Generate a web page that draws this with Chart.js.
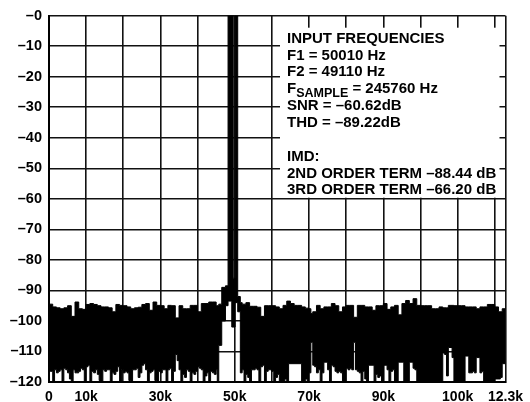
<!DOCTYPE html>
<html>
<head>
<meta charset="utf-8">
<script src="https://cdn.jsdelivr.net/npm/chart.js@4.4.1/dist/chart.umd.min.js"></script>
<style>
  html, body { margin: 0; padding: 0; background: #fff; }
  #wrap { width: 530px; height: 402px; }
</style>
</head>
<body>
<div id="wrap"><canvas id="myChart" width="530" height="402"></canvas></div>
<script>
// upper edge of the FFT trace: [bin start kHz, dB]
const topTrace = [
  [0, -94.5], [1, -95.4], [2, -95.7], [3, -96], [4, -95.7], [5, -95], [6, -98.5], [7, -93.8], [8, -96], [9, -96.2],
  [10, -94.6], [11, -94.3], [12, -94.6], [13, -95], [14, -95.4], [15, -95.4], [16, -95.7], [17, -97], [18, -94.6], [19, -94.9],
  [20, -95], [21, -95.4], [22, -96], [23, -95.7], [24, -95.5], [25, -94.6], [26, -94.3], [27, -96.5], [28, -93.8], [29, -94.9],
  [30, -95], [31, -96], [32, -94.9], [33, -95], [34, -99], [35, -95], [36, -96], [37, -96], [38, -94.9], [39, -94.9],
  [40, -97], [41, -94.3], [42, -94.3], [43, -93.8], [44, -93.8], [45, -95], [45.7, -94.5], [46.5, -89], [47.5, -88.5], [48.2, 0],
  [49.2, 0], [49.6, -86], [50.1, 0], [50.8, -92], [51.5, -94], [52, -94.5], [53, -94], [54, -95.2], [55, -95.2], [56, -95.5],
  [57, -98.5], [58, -95], [59, -95], [60, -95], [61, -95.4], [62, -96], [63, -94.9], [64, -93.5], [65, -94.3], [66, -94.9],
  [67, -94.9], [68, -95.4], [69, -95.8], [70, -96], [70.5, -97.6], [71, -97], [72, -94.9], [73, -96], [74, -95.4], [75, -95.4],
  [76, -94.3], [77, -95], [78, -97], [79, -95.4], [80, -94.9], [81, -94.9], [82, -98.8], [83, -94.9], [84, -94.9], [85, -95.4],
  [86, -95.4], [87, -96.5], [88, -95], [89, -95], [90, -94.3], [91, -96.2], [92, -95.4], [93, -94.9], [94, -98], [95, -94.3],
  [96, -93.3], [97, -94.3], [98, -92.7], [99, -94.9], [100, -95], [101, -95], [102, -95], [103, -96], [104, -96], [105, -95.4],
  [106, -95.7], [107, -95.7], [107.5, -94.9], [109, -95], [110, -95], [111, -95], [112, -95.4], [113, -95.4], [114, -95.4], [115, -96],
  [116, -95.4], [117, -95.4], [118, -94.6], [119, -94.6], [120, -95.4], [121, -97], [122, -96], [122.88, -96]
];

// lower edge of the FFT trace: [bin start kHz, dB]
const bottomTrace = [
  [0, -116.5], [0.5, -116.5], [1, -120], [1.5, -116], [2, -117], [2.5, -116.5], [3, -116], [3.5, -120], [4, -115.5], [4.5, -116],
  [5, -117], [5.5, -119], [6, -120], [6.5, -116], [7, -117], [7.5, -117], [8, -116.5], [8.5, -115.5], [9, -116], [9.5, -120],
  [10, -115], [10.5, -114.5], [11, -120], [11.5, -116.5], [12, -117], [12.5, -116], [13, -117.5], [13.5, -119.5], [14, -120], [14.5, -116],
  [15, -116.5], [15.5, -116], [16, -116], [16.5, -120], [17, -117], [17.5, -117.5], [18, -116.5], [18.5, -115], [19, -120], [19.5, -116],
  [20, -117], [20.5, -116.5], [21, -117], [21.5, -119.5], [22, -120], [22.5, -116], [23, -116], [23.5, -115.5], [24, -118.5], [24.5, -117],
  [25, -114.5], [25.5, -114], [26, -116], [26.5, -120], [27, -117], [27.5, -116.5], [28, -116], [28.5, -119.5], [29, -120], [29.5, -116.5],
  [30, -117], [30.5, -116], [31, -116], [31.5, -120], [32, -116], [32.5, -115.5], [33, -120], [33.5, -116.5], [34, -111], [34.5, -113],
  [35, -116], [35.5, -120], [36, -117.5], [36.5, -118.5], [37, -116], [37.5, -116.5], [38, -120], [38.5, -117], [39, -117.5], [39.5, -116.5],
  [40, -115], [40.5, -115.5], [41, -116], [41.5, -120], [42, -118], [42.5, -117], [43, -120], [43.5, -116.5], [44, -117], [44.5, -117.5],
  [45, -116], [45.3, -120], [45.7, -108], [46.5, -100], [47.5, -95], [48.2, -93.5], [49.2, -102], [50.1, -94], [50.8, -97], [51.5, -117],
  [52, -116], [52.5, -120], [53, -117.5], [53.5, -118.5], [54, -120], [54.5, -116], [55, -116], [55.5, -115.5], [56, -116], [56.5, -120],
  [57, -115], [57.5, -114.5], [58, -120], [58.5, -116.5], [59, -116], [60, -116.5], [60.5, -120], [61, -118.5], [61.5, -117.5], [62, -120],
  [63.5, -119], [64, -120], [64.5, -114], [68, -120], [69, -119], [69.5, -120], [70, -117], [70.5, -107], [71, -114.5], [71.5, -115],
  [72, -117], [72.5, -116], [73, -120], [73.5, -117], [74, -113.5], [75, -116], [75.5, -120], [76, -114.5], [76.5, -115], [77, -116.5],
  [77.5, -117], [78, -116.5], [78.5, -117], [79, -120], [80, -115.5], [80.5, -116], [81, -115.5], [81.5, -116], [82, -107], [82.5, -116],
  [83, -116.5], [83.5, -117], [84, -120], [84.5, -116.5], [85, -119], [85.5, -120], [86, -114.5], [87.5, -120], [88, -117.5], [88.5, -118.5],
  [89, -118], [89.5, -120], [90, -114.5], [91, -116], [91.5, -120], [92, -116.5], [92.5, -116], [93, -120], [94, -113.5], [95.5, -120],
  [97, -113.5], [98, -115.5], [98.5, -116], [99, -120], [106, -110.5], [106.5, -111], [107, -118], [107.5, -108.7], [108.5, -112], [109, -120],
  [112, -111.5], [113, -117], [114, -116.5], [114.5, -117], [115, -112], [116, -117], [116.5, -116.5], [117, -120], [120, -119], [121.5, -118.5],
  [122, -114], [122.88, -114]
];

// axis
const xMax = 122.88;
const xTickValues = [0, 10, 30, 50, 70, 90, 110, 122.88];
const xTickLabels = ['0', '10k', '30k', '50k', '70k', '90k', '100k', '12.3k'];

// text of the info box
const infoLines = [
  'INPUT FREQUENCIES',
  'F1 = 50010 Hz',
  'F2 = 49110 Hz',
  null, // FSAMPLE line, drawn with subscript
  'SNR = \u201360.62dB',
  'THD = \u201389.22dB',
  '',
  'IMD:',
  '2ND ORDER TERM \u201388.44 dB',
  '3RD ORDER TERM \u201366.20 dB'
];

const FONT = '"Liberation Sans", Arial, Helvetica, sans-serif';

const infoBox = {
  id: 'infoBox',
  beforeDatasetsDraw(chart) {
    const ctx = chart.ctx;
    const area = chart.chartArea;
    const bx = area.left + 231, by = area.top + 12;
    ctx.save();
    ctx.fillStyle = '#fff';
    ctx.fillRect(bx, by, area.right - 6 - bx, 170);
    ctx.fillStyle = '#000';
    ctx.textBaseline = 'alphabetic';
    ctx.textAlign = 'left';
    const tx = bx + 7;
    infoLines.forEach((line, i) => {
      const y = by + 15 + 16.85 * i;
      ctx.font = 'bold 15px ' + FONT;
      if (line === null) {
        ctx.fillText('F', tx, y);
        let w = ctx.measureText('F').width;
        ctx.font = 'bold 12.5px ' + FONT;
        ctx.fillText('SAMPLE', tx + w, y + 3.3);
        w += ctx.measureText('SAMPLE').width;
        ctx.font = 'bold 15px ' + FONT;
        ctx.fillText(' = 245760 Hz', tx + w, y);
      } else if (line) {
        ctx.fillText(line, tx, y);
      }
    });
    ctx.restore();
  }
};

new Chart(document.getElementById('myChart'), {
  type: 'line',
  data: {
    datasets: [
      {
        data: topTrace.map(p => ({ x: p[0], y: p[1] })),
        borderColor: '#000',
        borderWidth: 1,
        stepped: true,
        pointRadius: 0,
        fill: false
      },
      {
        data: bottomTrace.map(p => ({ x: p[0], y: p[1] })),
        borderColor: '#000',
        backgroundColor: '#000',
        borderWidth: 1,
        stepped: true,
        pointRadius: 0,
        fill: '-1'
      }
    ]
  },
  options: {
    animation: false,
    responsive: false,
    layout: { padding: { top: 14, right: 21, left: 0, bottom: 0 } },
    plugins: {
      legend: { display: false },
      tooltip: { enabled: false }
    },
    scales: {
      x: {
        type: 'linear',
        min: 0,
        max: xMax,
        afterBuildTicks(axis) {
          const t = [];
          for (let v = 0; v <= 120; v += 10) t.push({ value: v });
          t.push({ value: xMax });
          axis.ticks = t;
        },
        afterFit(axis) { axis.height = 20; },
        grid: { color: '#111', lineWidth: 1.6, drawTicks: false },
        border: { color: '#000', width: 2 },
        ticks: {
          autoSkip: false,
          maxRotation: 0,
          padding: 7,
          color: '#000',
          font: { family: FONT, size: 14, weight: 'bold' },
          callback(value) {
            const i = xTickValues.indexOf(value);
            return i < 0 ? '' : xTickLabels[i];
          }
        }
      },
      y: {
        min: -120,
        max: 0,
        afterFit(axis) { axis.width = 49; },
        grid: { color: '#111', lineWidth: 1.6, drawTicks: false },
        border: { color: '#000', width: 2 },
        ticks: {
          stepSize: 10,
          padding: 7,
          color: '#000',
          font: { family: FONT, size: 14.5, weight: 'bold' },
          callback: (v) => '\u2013' + Math.abs(v)
        }
      }
    }
  },
  plugins: [infoBox]
});
</script>
</body>
</html>
